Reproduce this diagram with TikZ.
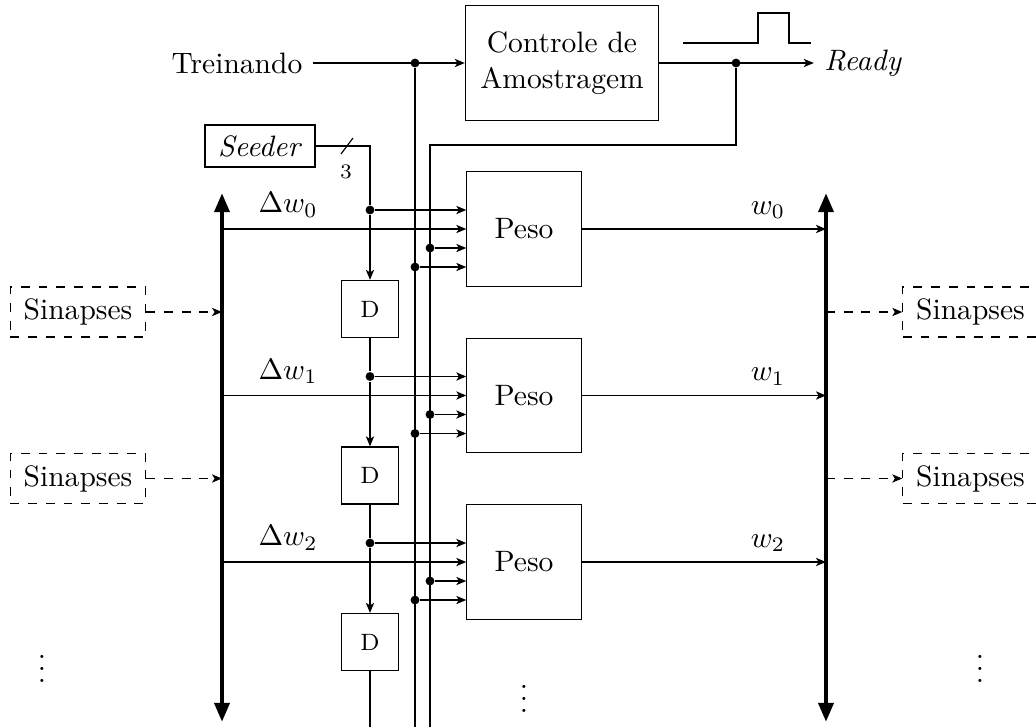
\documentclass[tikz,border=0pt]{standalone}
\usetikzlibrary{arrows.meta, positioning, calc}
\tikzset{
  blk/.style={draw, align=center, inner sep=0pt},
  sig/.style={-{Stealth[length=3.4pt, width=2.8pt, inset=0.9pt]}},
  bus/.style={line width=1.5pt, {Triangle[length=6.5pt, width=5pt]}-{Triangle[length=6.5pt, width=5pt]}},
  jn/.style={circle, fill, inner sep=0pt, minimum size=3pt},
  syn/.style={draw, dashed, inner sep=0pt, minimum width=1.61cm, minimum height=0.595cm},
}
\begin{document}
\begin{tikzpicture}[x=0.0119cm, y=-0.0119cm]
  \useasboundingbox (0,0) rectangle (1036,727);
  \coordinate (bot) at (0,727);
  % top: training input, sampling control and ready
  \node (trein) at (237,63) {Treinando};
  \node[blk, minimum width=2.3cm, minimum height=1.36cm] (ctrl) at (562,63) {Controle de\\Amostragem};
  \node (ready) at (863,63) {\textit{Ready}};
  \node[jn] (t) at (415,63) {};
  \node[jn] (r) at (736,63) {};
  \coordinate (c2) at (430,145);
  \draw[sig] (trein.east) -- (ctrl.west);
  \draw[sig] (ctrl.east) -- (ready.west);
  \draw (683,43) -- (758,43) -- (758,13) -- (789,13) -- (789,43) -- (811,43);
  \draw (t) -- (t |- bot);
  \draw (r) |- (c2) -- (c2 |- bot);
  % seeder
  \node[blk, minimum width=1.31cm, minimum height=0.5cm] (seeder) at (260,146) {\textit{Seeder}};
  \draw (341,154) -- (353,138);
  \node[font=\scriptsize] (nb) at (346,172) {3};
  % buses
  \draw[bus] (222,722) -- (222,193);
  \draw[bus] (826,722) -- (826,193);
  % weights
  \foreach \i in {0,1,2} {
    \pgfmathsetmacro\yc{229+166.5*\i}
    \node[blk, minimum size=1.36cm] (peso\i) at (524,\yc) {Peso};
    \node[blk, minimum size=0.68cm, font=\footnotesize] (d\i) at (370,\yc+80) {D};
    \node[jn] (s\i) at (370,\yc-19) {};
    \node[jn] (a\i) at (430,\yc+19) {};
    \node[jn] (b\i) at (415,\yc+38) {};
    \coordinate (lb\i) at (222,\yc);
    \coordinate (rb\i) at (826,\yc);
    \node (dw\i) at (288,\yc-24) {$\Delta w_\i$};
    \node (w\i) at (768,\yc-19) {$w_\i$};
    \draw[sig] (s\i) -- (s\i -| peso\i.west);
    \draw[sig] (lb\i) -- (peso\i.west);
    \draw[sig] (a\i) -- (a\i -| peso\i.west);
    \draw[sig] (b\i) -- (b\i -| peso\i.west);
    \draw[sig] (peso\i.east) -- (rb\i);
    \draw[sig] (s\i) -- (d\i.north);
  }
  \draw (seeder.east) -| (s0);
  \draw (d0.south) -- (s1);
  \draw (d1.south) -- (s2);
  \draw (d2.south) -- (d2.south |- bot);
  % neighbouring synapses
  \foreach \i in {0,1} {
    \pgfmathsetmacro\ys{312+166.5*\i}
    \node[syn] (sinL\i) at (78,\ys) {Sinapses};
    \node[syn] (sinR\i) at (970.5,\ys) {Sinapses};
    \coordinate (ls\i) at (222,\ys);
    \coordinate (rs\i) at (826,\ys);
    \draw[sig, dashed] (sinL\i.east) -- (ls\i);
    \draw[sig, dashed] (rs\i) -- (sinR\i.west);
  }
  \node (vl) at (42,660) {$\vdots$};
  \node (vr) at (980,660) {$\vdots$};
  \node (vm) at (524,690) {$\vdots$};
\end{tikzpicture}
\end{document}
